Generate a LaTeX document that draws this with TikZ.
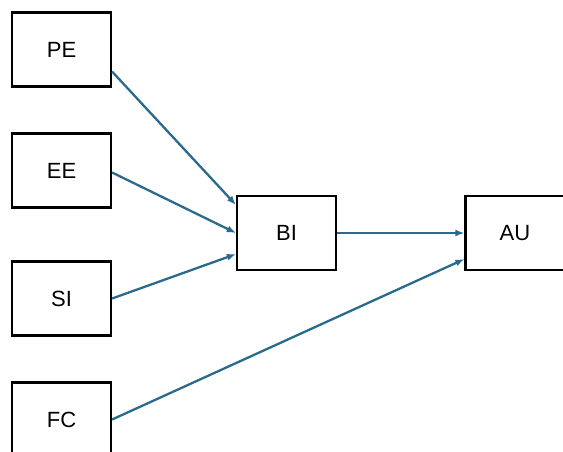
\documentclass[tikz,border=0pt]{standalone}
\usepackage{fontspec}
\setmainfont{Liberation Sans}
\usetikzlibrary{arrows.meta,calc}
\definecolor{linkblue}{HTML}{2A6A8C}
\begin{document}
\begin{tikzpicture}[x=1pt,y=-1pt,
  construct/.style={draw=black,line width=2.2pt,fill=white,minimum width=99pt,minimum height=74pt,inner sep=0pt,font=\fontsize{22}{24}\selectfont},
  link/.style={draw=linkblue,line width=2.3pt,-{Latex[length=9pt,width=7pt]}}]
\useasboundingbox (0,0) rectangle (563,452);
% exogenous constructs
\node[construct] (PE) at (61.5,49.5) {PE};
\node[construct] (EE) at (61.5,170.5) {EE};
\node[construct] (SI) at (61.5,298.5) {SI};
\node[construct] (FC) at (61.5,419.5) {FC};
% mediator and outcome
\node[construct] (BI) at (286.5,233) {BI};
\node[construct] (AU) at (515,233) {AU};
% paths
\draw[link] ($(PE.south east)+(0,-16)$) -- ($(BI.north west)+(0,10)$);
\draw[link] ($(EE.east)+(0,2)$) -- (BI.west);
\draw[link] (SI.east) -- ($(BI.south west)+(0,-17)$);
\draw[link] (BI.east) -- (AU.west);
\draw[link] (FC.east) -- ($(AU.south west)+(0,-12)$);
\end{tikzpicture}
\end{document}
